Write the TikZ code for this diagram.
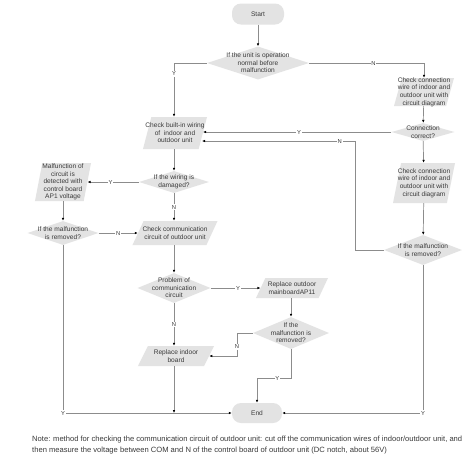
\documentclass[tikz,border=0pt]{standalone}
\usepackage{fontspec}
\setmainfont{Liberation Sans}
\usetikzlibrary{shapes.geometric,arrows.meta}
\definecolor{shapegray}{HTML}{E3E3E3}
\definecolor{linegray}{HTML}{8C8C8C}
\definecolor{textgray}{HTML}{3A3A3A}
\begin{document}
\begin{tikzpicture}[x=1pt,y=-1pt,
  lab/.style={font=\fontsize{6.6}{7.6}\selectfont, text=textgray, align=center, inner sep=0pt},
  term/.style={rectangle, rounded corners=9pt, fill=shapegray, inner sep=0pt},
  dec/.style={diamond, fill=shapegray, inner sep=0pt},
  para/.style={trapezium, trapezium left angle=80, trapezium right angle=100, trapezium stretches=true, fill=shapegray, inner sep=1pt},
  arr/.style={draw=linegray, line width=0.7pt, -{Latex[length=3pt,width=2.6pt,color=black]}},
  yn/.style={fill=white, inner sep=0.8pt, font=\fontsize{5.8}{6}\selectfont, text=textgray},
]
\useasboundingbox[fill=white] (0,0) rectangle (474,459);

% nodes
\node[term, minimum width=52, minimum height=21] (start) at (258,14) {};
\node[lab] at (start) {Start};

\node[dec, minimum width=102, minimum height=33] (d1) at (258,63) {};
\node[lab] at (d1) {If the unit is operation\\normal before\\malfunction};

\node[para, minimum width=60, minimum height=28] (pr1) at (424,92) {};
\node[lab] at (pr1) {Check connection\\wire of indoor and\\outdoor unit with\\circuit diagram};

\node[dec, minimum width=63, minimum height=18] (cc) at (423,132) {};
\node[lab] at (cc) {Connection\\correct?};

\node[para, minimum width=64, minimum height=32] (cbw) at (175,133) {};
\node[lab] at (cbw) {Check built-in wiring\\of\ \ indoor and\\outdoor unit};

\node[para, minimum width=62, minimum height=40] (pr2) at (424,183) {};
\node[lab] at (pr2) {Check connection\\wire of indoor and\\outdoor unit with\\circuit diagram};

\node[dec, minimum width=78, minimum height=30] (rd) at (423,250) {};
\node[lab] at (rd) {If the malfunction\\is removed?};

\node[dec, minimum width=70, minimum height=22] (wd) at (174,182) {};
\node[lab] at (wd) {If the wiring is\\damaged?};

\node[para, minimum width=56, minimum height=38] (mal) at (63,182) {};
\node[lab] at (mal) {Malfunction of\\circuit is\\detected with\\control board\\AP1 voltage};

\node[dec, minimum width=71, minimum height=24] (ld) at (63,233) {};
\node[lab] at (ld) {If the malfunction\\is removed?};

\node[para, minimum width=85, minimum height=24] (ccomm) at (175,233) {};
\node[lab] at (ccomm) {Check communication\\circuit of outdoor unit};

\node[dec, minimum width=73, minimum height=30] (prob) at (174,288) {};
\node[lab] at (prob) {Problem of\\communication\\circuit};

\node[para, minimum width=72, minimum height=20] (rob) at (292,288) {};
\node[lab] at (rob) {Replace outdoor\\mainboardAP11};

\node[dec, minimum width=76, minimum height=32] (md) at (291,333) {};
\node[lab] at (md) {If the\\malfunction is\\removed?};

\node[para, minimum width=76, minimum height=20] (rib) at (176,356) {};
\node[lab] at (rib) {Replace indoor\\board};

\node[term, minimum width=50, minimum height=20] (endn) at (257,413) {};
\node[lab] at (endn) {End};

\coordinate (k1) at (355,141);
\coordinate (k2) at (237,356);
\coordinate (k3) at (257,378);
\coordinate (j1) at (174,413);

% connectors
\draw[arr] (start) -- (d1);
\draw[arr] (d1.west) -| node[yn,pos=0.6]{Y} (cbw.north -| wd.north);
\draw[arr] (d1.east) -| node[yn,pos=0.28]{N} (pr1.north);
\draw[arr] (pr1) -- (cc);
\draw[arr] (cc.west) -- node[yn,pos=0.49]{Y} (cc.west -| cbw.east);
\draw[arr] (cc) -- (pr2);
\draw[arr] (pr2) -- (rd);
\draw[arr] (rd.west) -| (k1) -- node[yn,pos=0.1]{N} ([xshift=-1pt]k1 -| cbw.east);
\draw[arr] (cbw.south -| wd.north) -- (wd);
\draw[arr] (wd) -- node[yn,pos=0.55]{Y} (mal);
\draw[arr] (mal) -- (ld);
\draw[arr] (ld) -- node[yn]{N} (ccomm);
\draw[arr] (wd) -- node[yn]{N} (ccomm.north -| wd.south);
\draw[arr] (ccomm.south -| wd.south) -- (prob);
\draw[arr] (prob) -- node[yn,pos=0.55]{Y} (rob);
\draw[arr] (rob.south -| md.north) -- (md);
\draw[arr] (md.west) -| node[yn,pos=0.8]{N} (k2) -- (rib.east);
\draw[arr] (prob) -- node[yn]{N} (rib.north -| prob.south);
\draw[arr] (rib.south -| prob.south) -- (j1);
\draw[arr] (ld.south) |- node[yn,pos=0.5]{Y} (endn.west);
\draw[arr] (rd.south) |- node[yn,pos=0.5]{Y} (endn.east);
\draw[arr] (md.south) |- node[yn,pos=0.7]{Y} (k3) -- (endn.north);

% note
\node[font=\fontsize{7.6}{11}\selectfont, text=textgray, align=left, anchor=north west, inner sep=0pt] (note) at (32,436)
{Note: method for checking the communication circuit of outdoor unit: cut off the communication wires of indoor/outdoor unit, and\\
then measure the voltage between COM and N of the control board of outdoor unit (DC notch, about 56V)};
\end{tikzpicture}
\end{document}
